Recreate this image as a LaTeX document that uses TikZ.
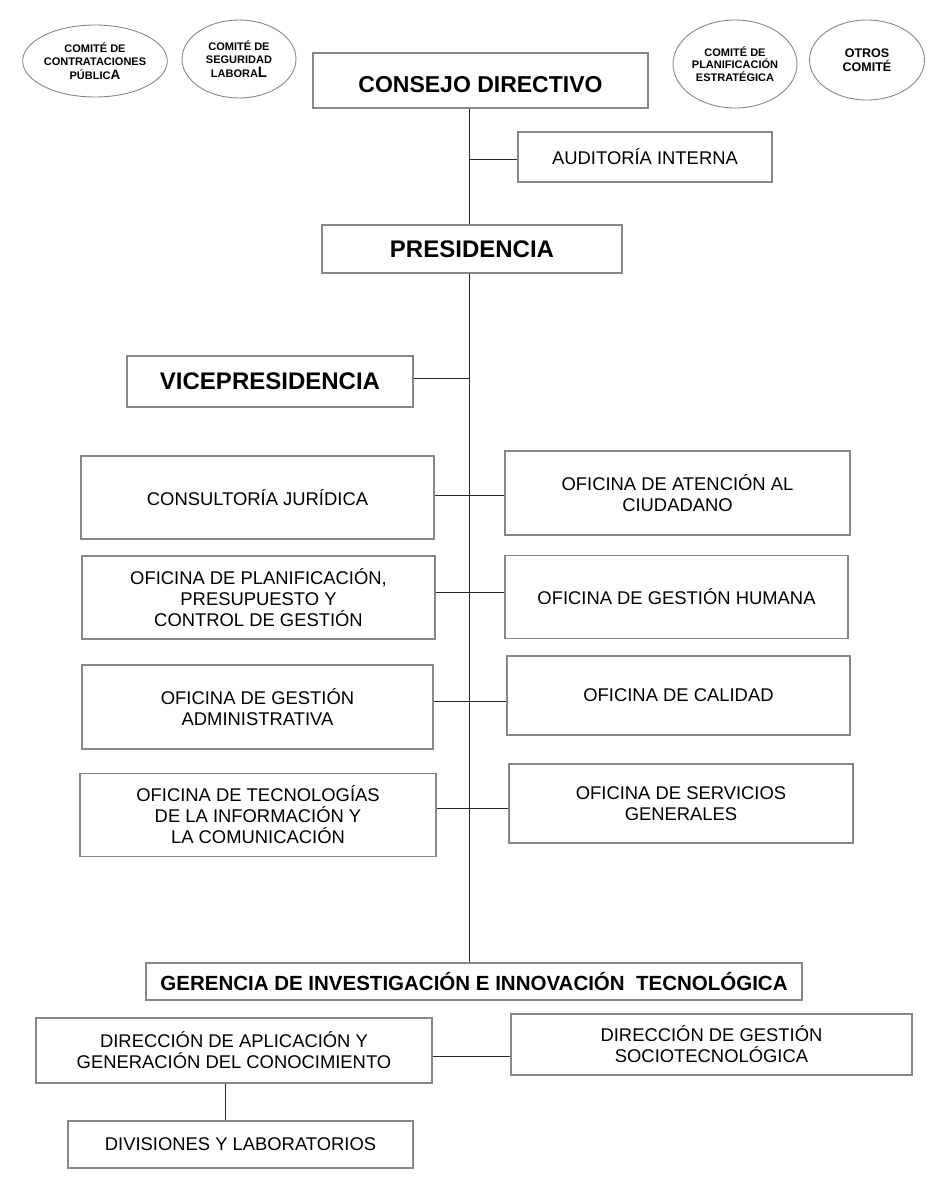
\documentclass[tikz,border=0pt]{standalone}
\usepackage{fontspec}
\setmainfont{Liberation Sans}
\usetikzlibrary{positioning, shapes.geometric}
\definecolor{framegray}{RGB}{135, 135, 135}
\definecolor{linedark}{RGB}{40, 40, 40}
\tikzset{
    unit/.style = {rectangle, draw=framegray, line width=1.1pt, fill=white, align=center, inner sep=0pt, font=\fontsize{18.4}{21}\selectfont},
    head/.style = {unit, font=\fontsize{24}{28}\selectfont\bfseries},
    comite/.style = {ellipse, draw=framegray, line width=0.9pt, align=center, inner sep=0pt, font=\fontsize{11}{13.5}\selectfont\bfseries},
    link/.style = {linedark, line width=1pt}
}

\begin{document}
\begin{tikzpicture}[x=1pt, y=-1pt]
  \useasboundingbox (0,0) rectangle (948,1200);
  \coordinate (t) at (469,0);

  % comites
  \node[comite, minimum width=137pt, minimum height=72pt] (ccp) at (95,61) {COMITÉ DE\\CONTRATACIONES\\PÚBLIC{\fontsize{13.5}{14}\selectfont A}};
  \node[comite, minimum width=114pt, minimum height=78pt] (csl) at (239,59) {COMITÉ DE\\SEGURIDAD\\LABORA{\fontsize{15}{16}\selectfont L}};
  \node[comite, minimum width=124pt, minimum height=88pt, font=\fontsize{11}{12.5}\selectfont\bfseries] (cpe) at (735,64) {COMITÉ DE\\PLANIFICACIÓN\\ESTRATÉGICA};
  \node[comite, minimum width=115pt, minimum height=80pt, font=\fontsize{12.5}{14}\selectfont\bfseries] (coc) at (867,60) {OTROS\\COMITÉ};

  % direccion superior
  \node[head, minimum width=335pt, minimum height=55pt, text height=25pt, font=\fontsize{23}{28}\selectfont\bfseries] (cd) at (480.5,80.5) {CONSEJO DIRECTIVO};
  \node[unit, minimum width=254pt, minimum height=50pt] (aud) at (645,157) {AUDITORÍA INTERNA};
  \node[head, minimum width=300pt, minimum height=48pt] (pres) at (472,249) {PRESIDENCIA};
  \node[head, minimum width=286pt, minimum height=51pt] (vice) at (270,381.5) {VICEPRESIDENCIA};

  % oficinas
  \node[unit, minimum width=353pt, minimum height=83pt] (cons) at (257.5,497.5) {CONSULTORÍA JURÍDICA};
  \node[unit, minimum width=345pt, minimum height=84pt] (aten) at (677.5,493) {OFICINA DE ATENCIÓN AL\\CIUDADANO};
  \node[unit, minimum width=353pt, minimum height=83pt] (plan) at (258.5,597.5) {OFICINA DE PLANIFICACIÓN,\\PRESUPUESTO Y\\CONTROL DE GESTIÓN};
  \node[unit, minimum width=343pt, minimum height=83pt] (hum) at (676.5,597) {OFICINA DE GESTIÓN HUMANA};
  \node[unit, minimum width=351pt, minimum height=84pt] (adm) at (257.5,707) {OFICINA DE GESTIÓN\\ADMINISTRATIVA};
  \node[unit, minimum width=343pt, minimum height=79pt] (cal) at (678.5,695.5) {OFICINA DE CALIDAD};
  \node[unit, minimum width=356pt, minimum height=83pt] (tec) at (258,815) {OFICINA DE TECNOLOGÍAS\\DE LA INFORMACIÓN Y\\LA COMUNICACIÓN};
  \node[unit, minimum width=344pt, minimum height=79pt] (serv) at (681,803.5) {OFICINA DE SERVICIOS\\GENERALES};

  % gerencia
  \node[head, minimum width=656pt, minimum height=37pt, font=\fontsize{20.5}{24}\selectfont\bfseries] (ger) at (474,981.5) {GERENCIA DE INVESTIGACIÓN E INNOVACIÓN\ \ TECNOLÓGICA};
  \node[unit, minimum width=396pt, minimum height=65pt] (dap) at (234,1050.5) {DIRECCIÓN DE APLICACIÓN Y\\GENERACIÓN DEL CONOCIMIENTO};
  \node[unit, minimum width=401pt, minimum height=61pt] (dgs) at (711.5,1044.5) {DIRECCIÓN DE GESTIÓN\\SOCIOTECNOLÓGICA};
  \node[unit, minimum width=345pt, minimum height=47pt] (div) at (240.5,1144.5) {DIVISIONES Y LABORATORIOS};

  % lineas
  \draw[link] (cd.south -| t) -- (pres.north -| t);
  \draw[link] (pres.south -| t) -- (ger.north -| t);
  \draw[link] ([yshift=-2pt]aud.west -| t) -- ([yshift=-2pt]aud.west);
  \draw[link] ([yshift=3.5pt]vice.east) -- ([yshift=3.5pt]vice.east -| t);
  \draw[link] ([yshift=2.5pt]cons.east) -- ([yshift=-2pt]aten.west);
  \draw[link] ([yshift=5.5pt]plan.east) -- ([yshift=5pt]hum.west);
  \draw[link] ([yshift=6pt]adm.east) -- ([yshift=-5.5pt]cal.west);
  \draw[link] ([yshift=7pt]tec.east) -- ([yshift=-4.5pt]serv.west);
  \draw[link] ([yshift=-6pt]dap.east) -- ([yshift=-6pt]dap.east -| dgs.west);
  \draw[link] ([xshift=-9pt]dap.south) -- ([xshift=-9pt]dap.south |- div.north);
\end{tikzpicture}
\end{document}
